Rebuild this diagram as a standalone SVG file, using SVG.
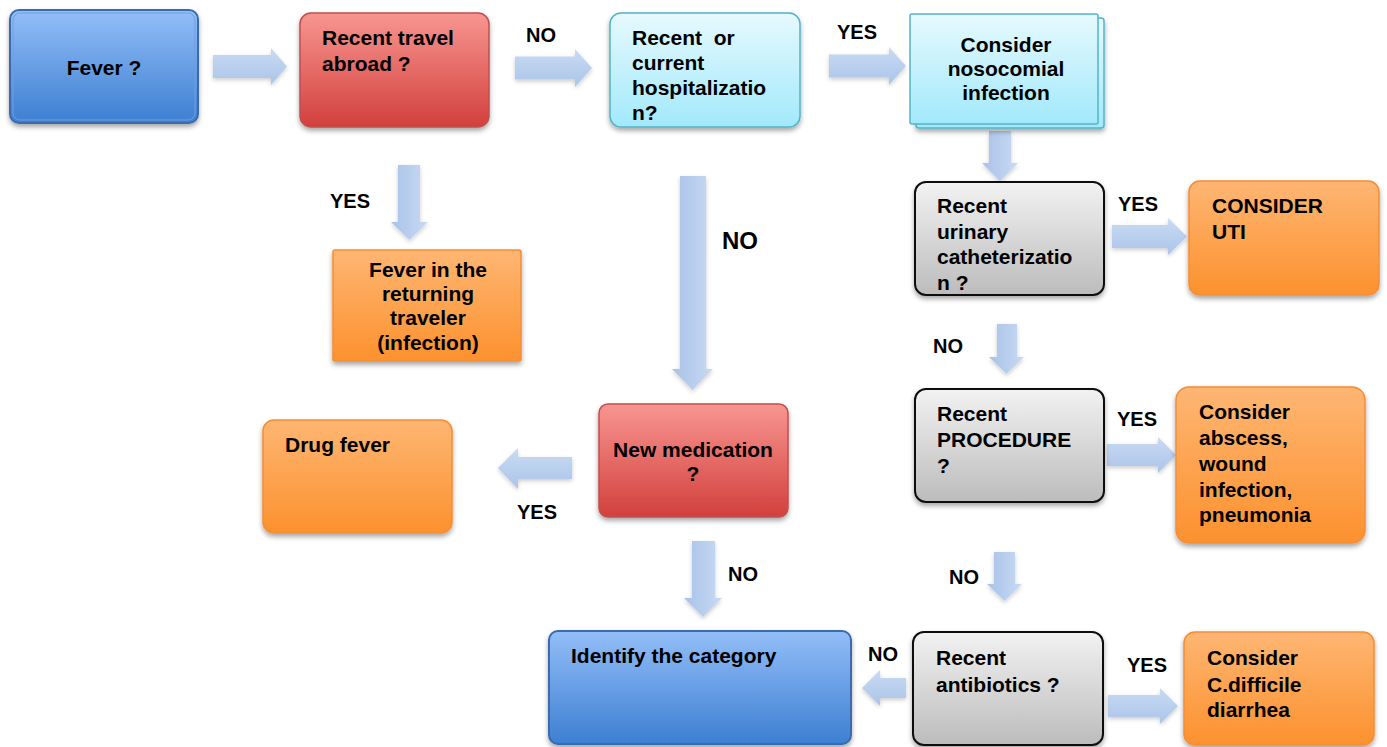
<svg xmlns="http://www.w3.org/2000/svg" width="1387" height="747" viewBox="0 0 1387 747">
<defs>
<linearGradient id="gBlue" x1="0" y1="0" x2="0" y2="1"><stop offset="0" stop-color="#93bef8"/><stop offset="1" stop-color="#3d7fd2"/></linearGradient>
<linearGradient id="gRed" x1="0" y1="0" x2="0" y2="1"><stop offset="0" stop-color="#f89590"/><stop offset="1" stop-color="#d2403d"/></linearGradient>
<linearGradient id="gCyan" x1="0" y1="0" x2="0" y2="1"><stop offset="0" stop-color="#e6f9fe"/><stop offset="1" stop-color="#a2e9fb"/></linearGradient>
<linearGradient id="gGray" x1="0" y1="0" x2="0" y2="1"><stop offset="0" stop-color="#f2f2f2"/><stop offset="1" stop-color="#bcbcbc"/></linearGradient>
<linearGradient id="gOrange" x1="0" y1="0" x2="0" y2="1"><stop offset="0" stop-color="#feb673"/><stop offset="1" stop-color="#fc912e"/></linearGradient>
<linearGradient id="gArrH" x1="0" y1="0" x2="0" y2="1"><stop offset="0" stop-color="#c9dbf3"/><stop offset="1" stop-color="#abc4e9"/></linearGradient>
<linearGradient id="gArrV" x1="0" y1="0" x2="1" y2="0"><stop offset="0" stop-color="#a9c2e8"/><stop offset="1" stop-color="#c8daf4"/></linearGradient>
<filter id="sh" x="-10%" y="-10%" width="120%" height="130%"><feDropShadow dx="0" dy="3" stdDeviation="2.5" flood-color="#000" flood-opacity="0.35"/></filter>
<filter id="ash" x="-20%" y="-20%" width="140%" height="150%"><feDropShadow dx="0" dy="2" stdDeviation="2" flood-color="#000" flood-opacity="0.2"/></filter>
</defs>
<style>
text{font-family:"Liberation Sans",Arial,sans-serif;font-weight:bold;fill:#000;}
.t{font-size:21px;}
.c{text-anchor:middle;}
.lbl{font-size:20px;text-anchor:middle;}
.blue{fill:url(#gBlue);stroke:#3a6aad;stroke-width:2;}
.red{fill:url(#gRed);stroke:#c0504d;stroke-width:1.5;}
.cyan{fill:url(#gCyan);stroke:#53b4c6;stroke-width:1.5;}
.gray{fill:url(#gGray);stroke:#111;stroke-width:2;}
.orange{fill:url(#gOrange);stroke:#f68d35;stroke-width:1.5;}
.ah{fill:url(#gArrH);filter:url(#ash);}
.av{fill:url(#gArrV);filter:url(#ash);}
</style>

<g id="connectors">
<polygon class="ah" points="213,55 271,55 271,48 287,66.5 271,85 271,78 213,78"/>
<polygon class="ah" points="515,56.5 575,56.5 575,49 592,68 575,87 575,79.5 515,79.5"/>
<polygon class="ah" points="829,54.5 889,54.5 889,47 906,66 889,85 889,77.5 829,77.5"/>
<polygon class="av" points="989,131 1011,131 1011,163 1018,163 1000,181 982,163 989,163"/>
<polygon class="ah" points="1112,225 1168,225 1168,218 1187,236.5 1168,255 1168,248 1112,248"/>
<polygon class="av" points="997,324 1017,324 1017,357 1024,357 1006.5,374 989,357 997,357"/>
<polygon class="ah" points="1107,444 1158,444 1158,437 1176,455 1158,473 1158,466 1107,466"/>
<polygon class="av" points="994,552 1015,552 1015,584 1022,584 1004.5,601 987,584 994,584"/>
<polygon class="ah" points="1108,695 1160,695 1160,688 1178,706 1160,724 1160,717 1108,717"/>
<polygon class="ah" points="906,678 880,678 880,670 862,688 880,706 880,698 906,698"/>
<polygon class="av" points="398,165 420,165 420,222 428,222 409.5,240 391,222 398,222"/>
<polygon class="av" points="680,176 706,176 706,369 713,369 692.5,390 672,369 680,369"/>
<polygon class="ah" points="572,457 518,457 518,448 498,468 518,489 518,479 572,479"/>
<polygon class="av" points="692,541 715,541 715,598 722,598 703,617 684,598 692,598"/>
<text class="lbl" x="541" y="42">NO</text>
<text class="lbl" x="857" y="39">YES</text>
<text class="lbl" x="350" y="208">YES</text>
<text class="lbl" x="740" y="249" style="font-size:24px">NO</text>
<text class="lbl" x="1138" y="211">YES</text>
<text class="lbl" x="948" y="353">NO</text>
<text class="lbl" x="1137" y="426">YES</text>
<text class="lbl" x="537" y="519">YES</text>
<text class="lbl" x="743" y="581">NO</text>
<text class="lbl" x="964" y="584">NO</text>
<text class="lbl" x="883" y="661">NO</text>
<text class="lbl" x="1147" y="672">YES</text>
</g>

<g id="fever">
<rect class="blue" x="10" y="10" width="188" height="113" rx="9" filter="url(#sh)"/>
<rect x="13" y="13" width="182" height="107" rx="7" fill="none" stroke="#6e9fe2" stroke-width="1"/>
<text class="t c" x="104" y="75">Fever ?</text>
</g>

<g id="travel">
<rect class="red" x="300" y="13" width="189" height="114" rx="11" filter="url(#sh)"/>
<text class="t" x="322" y="45">Recent travel</text>
<text class="t" x="322" y="71">abroad ?</text>
</g>

<g id="hospitalization">
<rect class="cyan" x="610" y="13" width="190" height="114" rx="11" filter="url(#sh)"/>
<text class="t" x="632" y="45" xml:space="preserve">Recent  or</text>
<text class="t" x="632" y="70">current</text>
<text class="t" x="632" y="95">hospitalizatio</text>
<text class="t" x="632" y="120">n?</text>
</g>

<g id="nosocomial">
<rect class="cyan" x="916" y="18" width="188" height="110" rx="3" filter="url(#sh)"/>
<rect class="cyan" x="910" y="14" width="188" height="110" rx="2"/>
<text class="t c" x="1006" y="52">Consider</text>
<text class="t c" x="1006" y="76">nosocomial</text>
<text class="t c" x="1006" y="100">infection</text>
</g>

<g id="urinary">
<rect class="gray" x="915" y="182" width="189" height="113" rx="11" filter="url(#sh)"/>
<text class="t" x="937" y="213">Recent</text>
<text class="t" x="937" y="239">urinary</text>
<text class="t" x="937" y="264">catheterizatio</text>
<text class="t" x="937" y="290">n ?</text>
</g>

<g id="uti">
<rect class="orange" x="1189" y="181" width="190" height="114" rx="11" filter="url(#sh)"/>
<text class="t" x="1212" y="213">CONSIDER</text>
<text class="t" x="1212" y="239">UTI</text>
</g>

<g id="returning">
<rect class="orange" x="333" y="250" width="188" height="111" rx="2" filter="url(#sh)"/>
<text class="t c" x="428" y="277">Fever in the</text>
<text class="t c" x="428" y="301">returning</text>
<text class="t c" x="428" y="325">traveler</text>
<text class="t c" x="428" y="350">(infection)</text>
</g>

<g id="newmed">
<rect class="red" x="599" y="404" width="189" height="113" rx="9" filter="url(#sh)"/>
<text class="t c" x="693" y="457">New medication</text>
<text class="t c" x="693" y="481">?</text>
</g>

<g id="drugfever">
<rect class="orange" x="263" y="420" width="189" height="113" rx="11" filter="url(#sh)"/>
<text class="t" x="285" y="452">Drug fever</text>
</g>

<g id="procedure">
<rect class="gray" x="915" y="389" width="189" height="113" rx="11" filter="url(#sh)"/>
<text class="t" x="937" y="421">Recent</text>
<text class="t" x="937" y="447">PROCEDURE</text>
<text class="t" x="937" y="473">?</text>
</g>

<g id="abscess">
<rect class="orange" x="1176" y="387" width="189" height="156" rx="13" filter="url(#sh)"/>
<text class="t" x="1199" y="419">Consider</text>
<text class="t" x="1199" y="445">abscess,</text>
<text class="t" x="1199" y="471">wound</text>
<text class="t" x="1199" y="497">infection,</text>
<text class="t" x="1199" y="522">pneumonia</text>
</g>

<g id="identify">
<rect class="blue" x="549" y="631" width="302" height="113" rx="9" stroke="none" filter="url(#sh)"/>
<text class="t" x="571" y="663">Identify the category</text>
</g>

<g id="antibiotics">
<rect class="gray" x="913" y="632" width="190" height="113" rx="11" filter="url(#sh)"/>
<text class="t" x="936" y="665">Recent</text>
<text class="t" x="936" y="692">antibiotics ?</text>
</g>

<g id="cdiff">
<rect class="orange" x="1184" y="632" width="190" height="113" rx="11" filter="url(#sh)"/>
<text class="t" x="1207" y="665">Consider</text>
<text class="t" x="1207" y="692">C.difficile</text>
<text class="t" x="1207" y="717">diarrhea</text>
</g>
</svg>
